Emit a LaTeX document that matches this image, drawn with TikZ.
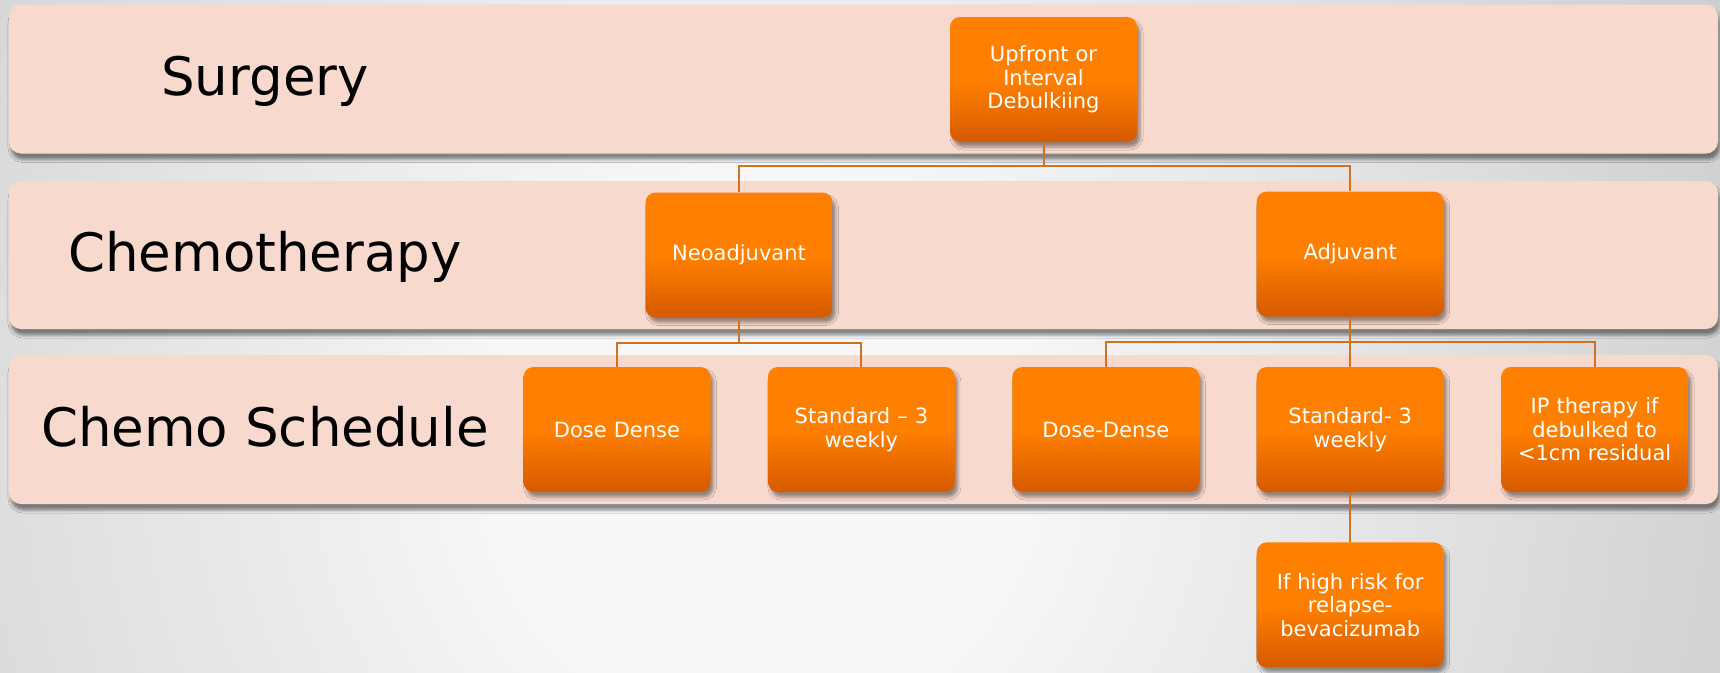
\documentclass[tikz,border=0pt]{standalone}
\usepackage{fontspec}
\setmainfont{DejaVu Sans}
\usetikzlibrary{positioning,calc,shadows.blur}
\definecolor{bnd}{RGB}{248,217,205}
\definecolor{ot}{RGB}{255,128,0}
\definecolor{od}{RGB}{214,90,0}
\definecolor{lnc}{RGB}{208,114,32}
\definecolor{bgl}{RGB}{247,247,247}
\definecolor{bgd}{RGB}{165,165,165}
\pgfdeclareradialshading{bgshade}{\pgfpoint{0bp}{0bp}}{color(0bp)=(bgl); color(6bp)=(bgl); color(42bp)=(bgd); color(50bp)=(bgd)}
\tikzset{
  band/.style={rectangle,rounded corners=12pt,fill=bnd,
    minimum width=1709pt,minimum height=149pt,
    blur shadow={shadow xshift=2pt,shadow yshift=-6pt,shadow blur radius=3pt,shadow opacity=45}},
  lbl/.style={font=\fontsize{53}{60}\selectfont,text=black,
    text height=42pt,text depth=9pt},
  ob/.style={rectangle,rounded corners=10pt,top color=ot,bottom color=od,middle color=ot,
    text=white,text width=170pt,align=center,font=\fontsize{21}{23.5}\selectfont,
    minimum width=187pt,minimum height=125pt,inner sep=0pt,
    blur shadow={shadow xshift=3pt,shadow yshift=-5pt,shadow blur radius=3pt,shadow opacity=40}},
  conn/.style={draw=lnc,line width=2pt},
}

\begin{document}
\begin{tikzpicture}[x=1pt,y=1pt]
    \useasboundingbox (0,0) rectangle (1720,-672);
    % background
    \begin{scope}
      \clip (0,0) rectangle (1720,-672);
      \shade[shading=bgshade] (-340,650) rectangle (1860,-1550);
    \end{scope}
    % bands
    \node[band] (b1) at (863.5,-79) {};
    \node[band,minimum height=148pt] (b2) at (863.5,-255) {};
    \node[band] (b3) at (863.5,-429.5) {};
    \node[lbl] (l1) at (265,-79) {Surgery};
    \node[lbl] (l2) at (265,-255) {Chemotherapy};
    \node[lbl] (l3) at (265,-429.5) {Chemo Schedule};
    % boxes
    \node[ob] (upf) at (1043.5,-79.5) {Upfront or\\Interval\\Debulkiing};
    \node[ob] (neo) at (739,-255) {Neoadjuvant};
    \node[ob] (dd1) at (617,-429.5) {Dose Dense};
    \node[ob,right=57pt of dd1] (sd1) {Standard -- 3\\weekly};
    \node[ob,right=57pt of sd1] (dd2) {Dose-Dense};
    \node[ob,right=57pt of dd2] (sd2) {Standard- 3\\weekly};
    \node[ob,right=57pt of sd2] (ipt) {IP therapy if\\debulked to\\<1cm residual};
    \node[ob,above=50pt of sd2] (adj) {Adjuvant};
    \node[ob,below=50pt of sd2] (bev) {If high risk for\\relapse-\\bevacizumab};
    % connectors
    \draw[conn] (upf.south) -- ++(0,-24) -| (neo.north);
    \draw[conn] (upf.south) -- ++(0,-24) -| (adj.north);
    \draw[conn] (neo.south) -- ++(0,-25) -| (dd1.north);
    \draw[conn] (neo.south) -- ++(0,-25) -| (sd1.north);
    \draw[conn] (adj.south) -- ++(0,-25) -| (dd2.north);
    \draw[conn] (adj.south) -- (sd2.north);
    \draw[conn] (adj.south) -- ++(0,-25) -| (ipt.north);
    \draw[conn] (sd2.south) -- (bev.north);
\end{tikzpicture}
\end{document}
